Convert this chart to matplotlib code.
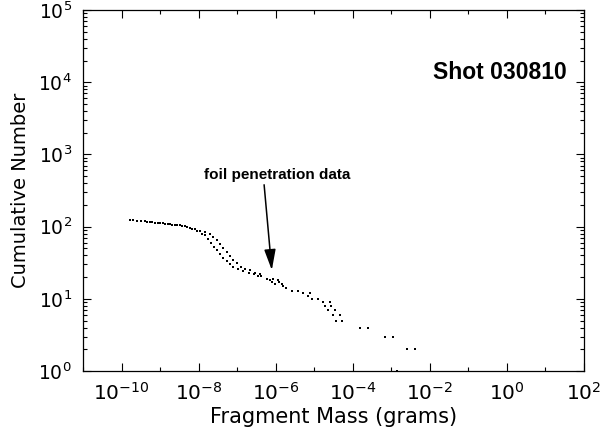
import matplotlib
matplotlib.use("Agg")
import matplotlib.pyplot as plt
import matplotlib.ticker as ticker
import numpy as np

# values (log10 of mass in grams, cumulative count)
logm_a = [-9.78, -9.60, -9.39, -9.26, -9.13, -9.00, -8.87, -8.74, -8.61, -8.48,
          -8.35, -8.22, -8.09, -7.96, -7.83, -7.70, -7.62, -7.53, -7.44, -7.36,
          -7.27, -7.19, -7.10, -7.01, -6.90, -6.80, -6.67, -6.54, -6.41, -6.38,
          -6.23, -6.15, -6.10, -6.02, -5.81, -5.73, -5.58, -5.29, -5.16, -5.06,
          -4.77, -4.72, -4.64, -4.51, -4.44, -3.81, -3.16, -2.59, -2.85]
count_a = [123, 121, 118, 116, 114, 112, 110, 108, 106, 104,
           101, 97, 93, 88, 83, 80, 72, 65, 57, 50,
           44, 39, 34, 31, 28, 26, 25, 23, 22, 21,
           19, 18, 17, 16, 15, 14, 13, 12, 11, 10,
           9, 8, 7, 6, 5, 4, 3, 2, 1]

logm_b = [-9.70, -9.50, -9.33, -9.20, -9.05, -8.93, -8.80, -8.68, -8.55, -8.42,
          -8.30, -8.17, -8.04, -7.90, -7.83, -7.76, -7.68, -7.60, -7.52, -7.45,
          -7.36, -7.27, -7.19, -7.10, -6.99, -6.85, -6.70, -6.57, -6.45, -6.07,
          -5.94, -5.91, -5.84, -5.42, -5.11, -4.90, -4.59, -4.56, -4.46, -4.33,
          -4.28, -3.61, -2.96, -2.39]
count_b = [122, 119, 117, 115, 113, 111, 109, 107, 104, 101,
           98, 93, 87, 80, 76, 68, 60, 53, 47, 42,
           37, 33, 30, 28, 26, 24.5, 23, 22, 21, 19,
           18, 17, 16, 13, 12, 10, 9, 8, 7, 6,
           5, 4, 3, 2]

plt.rcParams['font.family'] = ['DejaVu Sans']
fig = plt.figure(figsize=(6.12, 4.37), dpi=100)
ax = fig.add_axes([0.1356, 0.151, 0.8186, 0.826])

ax.plot(10.0 ** np.array(logm_a), count_a, 's', color='black', ms=1.5, mew=0)
ax.plot(10.0 ** np.array(logm_b), count_b, 's', color='black', ms=1.5, mew=0)

ax.set_xscale('log')
ax.set_yscale('log')
ax.set_xlim(1e-11, 1e2)
ax.set_ylim(1, 1e5)

ax.xaxis.set_major_locator(ticker.FixedLocator([10.0 ** k for k in range(-10, 3, 2)]))
ax.xaxis.set_minor_locator(ticker.FixedLocator([10.0 ** k for k in range(-11, 2, 2)]))
ax.xaxis.set_major_formatter(ticker.LogFormatterMathtext())
ax.xaxis.set_minor_formatter(ticker.NullFormatter())
ax.yaxis.set_major_locator(ticker.LogLocator(base=10, numticks=10))
ax.yaxis.set_minor_locator(ticker.LogLocator(base=10, subs=np.arange(2, 10), numticks=20))
ax.yaxis.set_minor_formatter(ticker.NullFormatter())

ax.tick_params(which='both', direction='in', top=True, right=True,
               width=0.8, colors='black')
ax.tick_params(axis='x', labelsize=14.5)
ax.tick_params(axis='y', labelsize=13.5)
ax.tick_params(which='major', length=6, pad=8)
ax.tick_params(which='minor', length=3)
for s in ax.spines.values():
    s.set_linewidth(0.9)

ax.set_xlabel('Fragment Mass (grams)', fontsize=15, labelpad=2)
ax.set_ylabel('Cumulative Number', fontsize=14, labelpad=6)

ax.text(0.832, 0.828, 'Shot 030810', transform=ax.transAxes, ha='center', va='center',
        fontsize=16.5, family='Liberation Sans', fontweight='bold')
ax.text(10 ** -5.97, 520, 'foil penetration data', ha='center', va='center',
        fontsize=11, family='Liberation Sans', fontweight='bold')
ax.annotate('', xy=(10 ** -6.10, 25), xytext=(10 ** -6.30, 380),
            arrowprops=dict(arrowstyle='-|>,head_length=0.9,head_width=0.25',
                            color='black', lw=1.1, mutation_scale=14,
                            shrinkA=0, shrinkB=0))

fig.savefig('out.png', dpi=100)
